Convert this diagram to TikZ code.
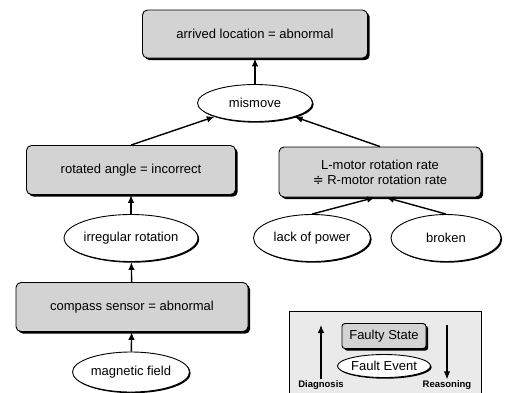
\documentclass[tikz,border=0pt]{standalone}
\usepackage{fontspec}
\setmainfont{Liberation Sans}
\newfontfamily\symfont{DejaVu Sans}
\usetikzlibrary{positioning,shapes.geometric,shadows,arrows.meta}
\definecolor{boxgray}{HTML}{D3D3D3}
\definecolor{keygray}{HTML}{EAEAEA}

\begin{document}
\begin{tikzpicture}[x=1pt,y=-1pt,>={Latex[length=8pt,width=6.5pt]},
    state/.style={draw,fill=boxgray,rounded corners=5pt,line width=0.9pt,align=center,
      drop shadow={shadow xshift=2.2pt,shadow yshift=-2.2pt,fill=black,opacity=1},font=\fontsize{13}{15}\selectfont},
    event/.style={draw,fill=white,ellipse,line width=0.9pt,inner sep=0pt,
      drop shadow={shadow xshift=1.2pt,shadow yshift=-1.2pt,fill=black,opacity=1},font=\fontsize{13}{15}\selectfont},
    link/.style={->,line width=1.4pt}]
    \useasboundingbox (0,0) rectangle (506,392);
    % fault tree
    \node[state,minimum width=225pt,minimum height=48pt] (arrived) at (255,34) {arrived location = abnormal};
    \node[event,minimum width=115pt,minimum height=37pt] (mismove) at (255,103) {mismove};
    \node[state,minimum width=209pt,minimum height=49pt] (rotated) at (131,170) {rotated angle = incorrect};
    \node[state,minimum width=202pt,minimum height=50pt] (rate) at (380,172) {L-motor rotation rate\\{\symfont ≑} R-motor rotation rate};
    \node[event,minimum width=117pt,minimum height=47pt] (irregular) at (131,238) {irregular rotation};
    \node[event,minimum width=117pt,minimum height=47pt] (power) at (312,238) {lack of power};
    \node[event,minimum width=110pt,minimum height=47pt] (broken) at (446,238) {broken};
    \node[state,minimum width=232pt,minimum height=49pt] (compass) at (132,307) {compass sensor = abnormal};
    \node[event,minimum width=117pt,minimum height=40pt] (magnetic) at (131,372) {magnetic field};
    \draw[link] (mismove) -- (arrived);
    \draw[link] (rotated.north) -- (mismove);
    \draw[link] (rate.north) -- (mismove);
    \draw[link] (irregular) -- (rotated);
    \draw[link] (power.north) -- ([xshift=-5pt]rate.south);
    \draw[link] (broken.north) -- ([xshift=6pt]rate.south);
    \draw[link] (compass) -- (irregular);
    \draw[link] (magnetic) -- (compass);
    % legend
    \draw[fill=keygray,line width=0.9pt] (289,311) rectangle (481,394);
    \node[state,rounded corners=3pt,minimum width=84pt,minimum height=25pt,inner sep=1pt] (faulty) at (384,336) {Faulty State};
    \node[event,minimum width=84pt,minimum height=23pt] (fault) at (384,366) {Fault Event};
    \node[font=\fontsize{9.5}{11}\selectfont\bfseries,inner sep=1pt] (diagnosis) at (321,385) {Diagnosis};
    \node[font=\fontsize{9.5}{11}\selectfont\bfseries,inner sep=1pt] (reasoning) at (447,385) {Reasoning};
    \coordinate (diagtop) at (321,325);
    \coordinate (reastop) at (447,325);
    \draw[->,line width=1.1pt] (diagnosis.north) -- (diagtop);
    \draw[->,line width=1.1pt] (reastop) -- (reasoning.north);
\end{tikzpicture}
\end{document}
